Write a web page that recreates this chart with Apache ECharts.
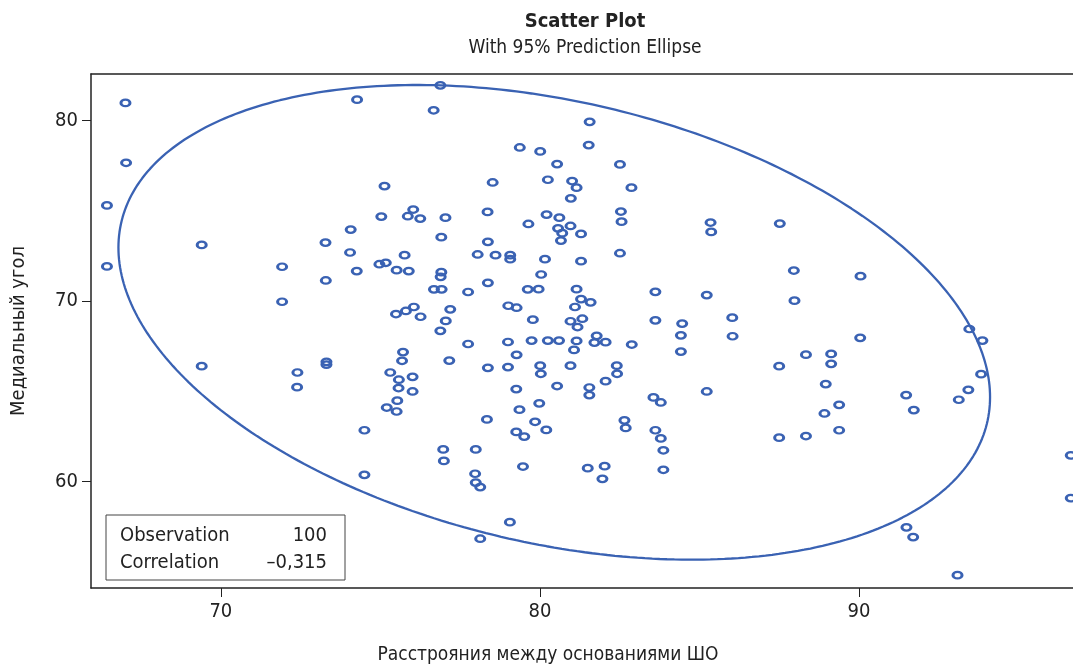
<!DOCTYPE html>
<html>
<head>
<meta charset="utf-8">
<script src="https://cdn.jsdelivr.net/npm/echarts@6/dist/echarts.min.js"></script>
<style>
html,body{margin:0;padding:0;background:#fff;}
#chart{width:1073px;height:666px;}
</style>
</head>
<body>
<div id="chart"></div>
<script>
// ---- data ----
const obsX = [
 67.01,67.03,66.43,74.27,75.13,75.03,75.86,76.03,74.07,69.40,73.28,74.05,75.76,66.43,71.92,74.97,75.17,74.26,75.51,75.89,73.29,71.92,75.49,75.80,76.05,
 76.88,76.67,81.56,81.53,79.37,80.01,80.54,82.51,78.52,80.25,81.01,81.15,80.97,82.87,76.25,77.04,78.36,80.21,80.61,80.96,80.57,80.70,80.66,81.29,79.64,
 82.54,82.56,85.35,85.37,76.91,78.37,78.05,78.61,79.07,79.07,80.16,81.29,82.51,76.91,76.89,76.68,76.92,77.75,78.37,80.04,79.62,79.96,81.15,81.29,81.59,
 81.10,83.62,85.23,76.26,77.19,77.05,76.88,79.01,79.27,79.78,80.96,81.33,81.18,83.62,84.46,86.03,
 87.52,87.96,87.98,90.05,93.46,
 86.04,90.04,93.87,88.34,89.13,89.13,87.50,88.96,89.38,88.92,89.38,87.50,88.34,91.48,91.72,93.13,93.43,93.83,96.64,96.64,91.49,91.70,93.09,
 69.40,72.40,72.39,73.31,73.31,75.71,75.68,75.31,75.58,75.57,76.01,76.01,75.53,75.20,75.51,74.50,74.50,
 77.75,79.00,79.74,80.25,80.60,81.15,81.07,81.78,81.71,82.06,82.88,84.42,84.42,77.16,79.27,78.37,79.00,80.01,80.03,80.96,82.41,82.42,82.06,80.54,81.55,
 81.55,79.26,79.98,79.36,78.34,79.85,80.20,79.26,79.51,76.97,76.99,77.99,77.97,77.99,78.13,79.47,81.50,82.03,81.96,83.56,83.79,82.65,82.69,83.62,83.79,
 83.87,83.87,85.23,79.06,78.13
];
const obsY = [
 80.98,77.66,75.30,81.16,76.37,74.68,74.70,75.07,73.96,73.11,73.24,72.69,72.54,71.92,71.90,72.04,72.12,71.66,71.71,71.66,71.14,69.96,69.28,69.45,69.67,
 81.95,80.57,79.93,78.64,78.51,78.29,77.59,77.57,76.57,76.72,76.65,76.28,75.69,76.28,74.57,74.62,74.94,74.79,74.62,74.16,74.03,73.76,73.35,73.72,74.27,
 74.96,74.40,74.35,73.83,73.54,73.28,72.58,72.54,72.54,72.32,72.32,72.21,72.65,71.60,71.34,70.65,70.65,70.50,71.01,71.47,70.65,70.66,70.66,70.11,69.93,
 69.67,70.51,70.33,69.13,69.54,68.90,68.35,69.74,69.63,68.97,68.88,69.02,68.56,68.93,68.75,69.08,
 74.29,71.69,70.02,71.38,68.45,
 68.05,67.96,67.81,67.03,67.07,66.52,66.39,65.40,64.25,63.77,62.84,62.43,62.52,64.79,63.96,64.53,65.08,65.95,61.45,59.08,57.46,56.92,54.81,
 66.39,66.04,65.23,66.63,66.48,67.17,66.69,66.04,65.64,65.18,65.80,64.99,64.48,64.10,63.88,62.84,60.37,
 67.62,67.73,67.81,67.81,67.81,67.79,67.29,68.07,67.70,67.72,67.59,68.10,67.20,66.70,67.02,66.30,66.34,66.42,65.97,66.42,66.42,65.97,65.56,65.29,65.21,
 64.79,65.12,64.33,63.98,63.44,63.31,62.86,62.75,62.49,61.78,61.14,61.78,60.43,59.94,59.69,60.83,60.74,60.85,60.15,64.66,64.38,63.39,62.97,62.84,62.39,
 61.73,60.65,64.99,57.75,56.83
];
const xTicks = [70, 80, 90];
const yTicks = [60, 70, 80];
// prediction ellipse: centre, half extents, correlation
const ellipseCenter = [80.45, 68.82];
const ellipseHalfWidth = 13.66;
const ellipseHalfHeight = 13.15;
const correlation = -0.315;
const statLabels = ['Observation', 'Correlation'];
const statValues = ['100', '–0,315'];

const titleText = 'Scatter Plot';
const subtitleText = 'With 95% Prediction Ellipse';
const xName = 'Расстрояния между основаниями ШО';
const yName = 'Медиальный угол';

// ---- build ----
const points = obsX.map((x, i) => [x, obsY[i]]);
const ellipse = [];
const steps = 360;
const s = Math.sqrt(1 - correlation * correlation);
for (let k = 0; k <= steps; k++) {
  const t = 2 * Math.PI * k / steps;
  ellipse.push([
    ellipseCenter[0] + ellipseHalfWidth * Math.cos(t),
    ellipseCenter[1] + ellipseHalfHeight * (correlation * Math.cos(t) + s * Math.sin(t))
  ]);
}

const FONT = '"Liberation Sans Narrow", "DejaVu Sans Condensed", "Liberation Sans", sans-serif';
const BLUE = '#3a62b3';
const INK = '#222';
const X_MIN = 65.93, X_MAX = 96.71;

const chart = echarts.init(document.getElementById('chart'), null, {renderer: 'canvas'});
chart.setOption({
  animation: false,
  backgroundColor: '#fff',
  grid: {left: 91, right: 0, top: 74, bottom: 78, show: false},
  xAxis: [{
    type: 'value', min: X_MIN, max: X_MAX, splitNumber: 3,
    axisLine: {show: true, onZero: false, lineStyle: {color: INK, width: 1.5}},
    axisTick: {show: true, length: 9, customValues: xTicks, lineStyle: {color: INK, width: 1}},
    axisLabel: {customValues: xTicks, margin: 14, fontSize: 20, color: INK, fontFamily: FONT},
    splitLine: {show: false}
  }, {
    type: 'value', position: 'top', min: X_MIN, max: X_MAX,
    axisLine: {show: true, onZero: false, lineStyle: {color: INK, width: 1.5}},
    axisTick: {show: false}, axisLabel: {show: false}, splitLine: {show: false}
  }],
  yAxis: {
    type: 'value', min: 54.10, max: 82.58, splitNumber: 3,
    name: yName, nameLocation: 'middle', nameGap: 62,
    nameTextStyle: {fontSize: 20, color: INK, fontFamily: FONT},
    axisLine: {show: true, onZero: false, lineStyle: {color: INK, width: 1.5}},
    axisTick: {show: true, length: 9, customValues: yTicks, lineStyle: {color: INK, width: 1}},
    axisLabel: {customValues: yTicks, margin: 13, fontSize: 20, color: INK, fontFamily: FONT},
    splitLine: {show: false}
  },
  series: [
    {
      type: 'line', data: ellipse, showSymbol: false, smooth: false, silent: true,
      lineStyle: {color: BLUE, width: 2.3}, z: 2
    },
    {
      type: 'scatter', data: points, symbol: 'circle', symbolSize: [9, 6.5],
      itemStyle: {color: 'rgba(255,255,255,0)', borderColor: BLUE, borderWidth: 2.6, opacity: 1}, z: 3
    }
  ],
  graphic: [
    {type: 'text', x: 585, y: 22, style: {text: titleText, font: 'bold 20px ' + FONT, fill: INK, align: 'center', verticalAlign: 'middle'}},
    {type: 'text', x: 585, y: 48, style: {text: subtitleText, font: '19px ' + FONT, fill: INK, align: 'center', verticalAlign: 'middle'}},
    {type: 'text', x: 548, y: 655, style: {text: xName, font: '19px ' + FONT, fill: INK, align: 'center', verticalAlign: 'middle'}},
    {type: 'rect', shape: {x: 106, y: 515, width: 239, height: 65}, style: {fill: '#fff', stroke: '#444', lineWidth: 1}, z: 10},
    {type: 'text', x: 120, y: 536, z: 11, style: {text: statLabels[0], font: '20px ' + FONT, fill: INK, align: 'left', verticalAlign: 'middle'}},
    {type: 'text', x: 120, y: 563, z: 11, style: {text: statLabels[1], font: '20px ' + FONT, fill: INK, align: 'left', verticalAlign: 'middle'}},
    {type: 'text', x: 327, y: 536, z: 11, style: {text: statValues[0], font: '20px ' + FONT, fill: INK, align: 'right', verticalAlign: 'middle'}},
    {type: 'text', x: 327, y: 563, z: 11, style: {text: statValues[1], font: '20px ' + FONT, fill: INK, align: 'right', verticalAlign: 'middle'}}
  ]
});
</script>
</body>
</html>
